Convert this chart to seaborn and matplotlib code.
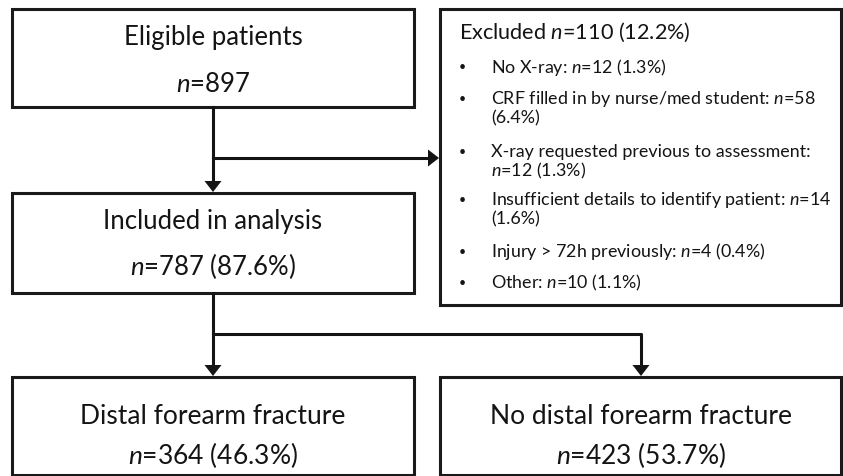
import matplotlib
matplotlib.use("Agg")
import matplotlib.pyplot as plt
import seaborn as sns
from matplotlib.patches import Rectangle, Polygon

sns.set_theme(style="white")
plt.rcParams['font.family'] = ['Lato', 'DejaVu Sans']
plt.rcParams['mathtext.fontset'] = 'custom'
plt.rcParams['mathtext.rm'] = 'Lato'
plt.rcParams['mathtext.it'] = 'Lato:italic'

# ---- data ----
box_titles = ["Eligible patients", "Included in analysis",
              "Distal forearm fracture", "No distal forearm fracture"]
box_counts = [897, 787, 364, 423]
box_pcts = [None, 87.6, 46.3, 53.7]

excluded_n = 110
excluded_pct = 12.2
excl_reasons = ["No X-ray",
                "CRF filled in by nurse/med student",
                "X-ray requested previous to assessment",
                "Insufficient details to identify patient",
                "Injury > 72h previously",
                "Other"]
excl_counts = [12, 58, 12, 14, 4, 10]
excl_pcts = [1.3, 6.4, 1.3, 1.6, 0.4, 1.1]
# how each reason wraps onto a second line
excl_wrap = ["none", "pct", "count", "pct", "none", "none"]

# ---- layout (pixels) ----
W, H = 843, 476
fig = plt.figure(figsize=(W / 100, H / 100), dpi=100)
ax = fig.add_axes([0, 0, 1, 1])
ax.set_xlim(0, W)
ax.set_ylim(H, 0)
ax.axis('off')

LW = 2.2
EC = '#1a1a1a'
TC = '#141414'

boxes = [(12, 9, 414, 107), (12, 193, 414, 293),
         (12, 377, 414, 475), (440, 377, 841, 475)]
title_y = [38, 222, 416, 416]
count_y = [85, 266, 455, 455]
title_fs = [18.5, 18.5, 19, 19]

for i, (x0, y0, x1, y1) in enumerate(boxes):
    ax.add_patch(Rectangle((x0, y0), x1 - x0, y1 - y0, fill=False,
                           edgecolor=EC, lw=LW))
    cx = (x0 + x1) / 2
    ax.text(cx, title_y[i], box_titles[i], ha='center', va='center',
            fontsize=title_fs[i], color=TC)
    s = f"$n$={box_counts[i]}"
    if box_pcts[i] is not None:
        s += f" ({box_pcts[i]:.1f}%)"
    ax.text(cx, count_y[i], s, ha='center', va='center',
            fontsize=title_fs[i], color=TC)

# excluded box
ex = (440, 9, 841, 305)
ax.add_patch(Rectangle((ex[0], ex[1]), ex[2] - ex[0], ex[3] - ex[1],
                       fill=False, edgecolor=EC, lw=LW))
ax.text(459, 32, f"Excluded $n$={excluded_n} ({excluded_pct:.1f}%)",
        ha='left', va='center', fontsize=15.6, color=TC)

bullet_y = [67, 99, 152, 200, 252, 283]
line_gap = 19
for i, reason in enumerate(excl_reasons):
    y = bullet_y[i]
    ax.text(462, y, "•", ha='center', va='center', fontsize=9, color=TC)
    cnt = f"$n$={excl_counts[i]}"
    pct = f"({excl_pcts[i]:.1f}%)"
    if excl_wrap[i] == "none":
        lines = [f"{reason}: {cnt} {pct}"]
    elif excl_wrap[i] == "pct":
        lines = [f"{reason}: {cnt}", pct]
    else:
        lines = [f"{reason}:", f"{cnt} {pct}"]
    for j, ln in enumerate(lines):
        ax.text(491, y + j * line_gap, ln, ha='left', va='center',
                fontsize=12.85, color=TC)

# connectors
def seg(xs, ys):
    ax.plot(xs, ys, color=TC, lw=LW, solid_capstyle='projecting')

def head(x, y, direction):
    hw, hl = 8.5, 11
    if direction == 'down':
        pts = [(x - hw, y - hl), (x + hw, y - hl), (x, y)]
    else:
        pts = [(x - hl, y - hw), (x - hl, y + hw), (x, y)]
    ax.add_patch(Polygon(pts, closed=True, color=TC, lw=0))

cx = 213
seg([cx, cx], [107, 182])
head(cx, 192, 'down')
seg([cx, 430], [158, 158])
head(439, 158, 'right')
seg([cx, cx], [293, 366])
head(cx, 376, 'down')
seg([cx, 641, 641], [334, 334, 366])
head(641, 376, 'down')

fig.savefig("out.png", dpi=100, facecolor='white')
